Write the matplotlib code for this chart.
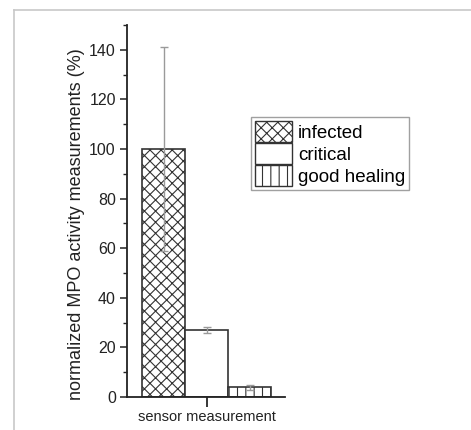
import matplotlib.pyplot as plt
from matplotlib.lines import Line2D
from matplotlib.patches import Patch
from matplotlib.ticker import MultipleLocator

plt.rcParams["font.family"] = ["Liberation Sans", "DejaVu Sans"]
plt.rcParams["hatch.linewidth"] = 0.8

groups = ["infected", "critical", "good healing"]
values = [100, 27, 4]
errors = [41, 1.2, 1.0]
hatches = ["xxx", "", "||"]
positions = [-1, 0, 1]

edge = "#333333"

fig = plt.figure(figsize=(4.71, 4.30), dpi=100, facecolor="white")

# thin grey frame like the screenshot border
fig.add_artist(Line2D([13.5 / 471, 13.5 / 471], [0, 1 - 9.5 / 430],
                      color="#c8c8c8", lw=1.2, transform=fig.transFigure))
fig.add_artist(Line2D([13.5 / 471, 1], [1 - 9.5 / 430, 1 - 9.5 / 430],
                      color="#c8c8c8", lw=1.2, transform=fig.transFigure))

ax = fig.add_axes([0.2696, 0.0767, 0.3355, 0.8652])

for x, v, e, h, name in zip(positions, values, errors, hatches, groups):
    ax.bar(x, v, width=1.0, facecolor="white", edgecolor=edge,
           hatch=h, linewidth=1.2, label=name, zorder=2)
    ax.errorbar(x, v, yerr=e, color="#9a9a9a", lw=1.0, capsize=3,
                capthick=1.0, zorder=3)

ax.set_xlim(-1.86, 1.82)
ax.set_ylim(0, 150)
ax.yaxis.set_major_locator(MultipleLocator(20))
ax.yaxis.set_minor_locator(MultipleLocator(10))
ax.set_yticks(range(0, 141, 20))
ax.set_xticks([0])
ax.set_xticklabels(["sensor measurement"], fontsize=10.5, color="#222222")

for side in ["top", "right"]:
    ax.spines[side].set_visible(False)
for side in ["left", "bottom"]:
    ax.spines[side].set_color("#222222")
    ax.spines[side].set_linewidth(1.3)

ax.tick_params(axis="y", which="major", direction="out", length=5, width=1.1,
               labelsize=11.5, colors="#222222", pad=3)
ax.tick_params(axis="y", which="minor", direction="out", length=3, width=1.0,
               colors="#222222")
ax.tick_params(axis="x", direction="out", length=7, width=1.1, pad=2)

ax.set_ylabel("normalized MPO activity measurements (%)", fontsize=13,
              color="#222222", labelpad=3, y=0.466)

handles = [Patch(facecolor="white", edgecolor=edge, hatch=h, label=g)
           for g, h in zip(groups, hatches)]
leg = ax.legend(handles=handles, loc="upper left",
                bbox_to_anchor=(251 / 471, 1 - 117 / 430),
                bbox_transform=fig.transFigure, fontsize=13.5, frameon=True,
                fancybox=False, handlelength=2.0, handleheight=1.35,
                labelspacing=0.05, handletextpad=0.3, borderpad=0.2,
                borderaxespad=0)
leg.get_frame().set_edgecolor("#888888")
leg.get_frame().set_linewidth(1.0)

fig.savefig("out.png", dpi=100)
